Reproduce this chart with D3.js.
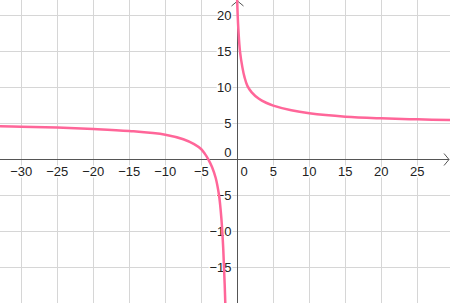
<!DOCTYPE html>
<html>
<head>
    <meta charset="utf-8" />
    <title>Function plot</title>
    <style>
        html, body { margin: 0; padding: 0; background: #fff; }
        #plot { width: 450px; height: 303px; }
        text { font-family: "Liberation Sans", Arial, sans-serif; font-size: 13px; fill: #222; }
    </style>
</head>
<body>
    <div id="plot"></div>
    <script src="https://cdnjs.cloudflare.com/ajax/libs/d3/7.8.5/d3.min.js"></script>
    <script>
        // visible window of the graphics view
        var xDomain = [-32.96, 29.54]
        var yDomain = [-19.96, 22.12]
        var xTicks = [-30, -25, -20, -15, -10, -5, 5, 10, 15, 20, 25]
        var yTicks = [-15, -10, -5, 5, 10, 15, 20]

        // points, left and right branch
        var leftX = [-33.5, -30, -25, -20, -15, -10, -7.5, -6, -5, -4.5, -4.03, -3.5, -3, -2.54, -2.3, -2.12, -1.95, -1.85, -1.75, -1.67, -1.6]
        var leftY = [4.58, 4.53, 4.40, 4.21, 3.93, 3.42, 2.78, 2.1, 1.39, 0.75, 0, -1.1, -2.6, -5, -7.2, -9.5, -12.5, -15, -17.5, -20, -22.5]
        var rightX = [-0.03, 0.05, 0.15, 0.37, 0.7, 1.0, 1.4, 2, 3, 4, 5, 7.5, 10, 15, 20, 25, 30]
        var rightY = [22.5, 20, 18, 15, 12.8, 11.4, 10.2, 9.3, 8.4, 7.85, 7.45, 6.8, 6.39, 5.92, 5.69, 5.55, 5.45]

        var width = 450, height = 303

        var svg = d3.select("#plot").append("svg")
            .attr("width", width)
            .attr("height", height)

        var x = d3.scaleLinear().domain(xDomain).range([0, width])
        var y = d3.scaleLinear().domain(yDomain).range([height, 0])
        var fmt = d3.format("d")

        // grid
        var grid = svg.append("g").attr("stroke", "#d6d6d6").attr("stroke-width", 1)
        grid.selectAll("line.v").data(xTicks).enter().append("line")
            .attr("x1", function (d) { return Math.round(x(d)) + 0.5 })
            .attr("x2", function (d) { return Math.round(x(d)) + 0.5 })
            .attr("y1", 0).attr("y2", height)
        grid.selectAll("line.h").data(yTicks).enter().append("line")
            .attr("y1", function (d) { return Math.round(y(d)) + 0.5 })
            .attr("y2", function (d) { return Math.round(y(d)) + 0.5 })
            .attr("x1", 0).attr("x2", width)

        // axes
        var x0 = Math.round(x(0)) + 0.5, y0 = Math.round(y(0)) + 0.5
        var axes = svg.append("g").attr("stroke", "#555").attr("stroke-width", 1).attr("fill", "none")
        axes.append("line").attr("x1", 0).attr("x2", width - 1).attr("y1", y0).attr("y2", y0)
        axes.append("line").attr("x1", x0).attr("x2", x0).attr("y1", 1).attr("y2", height)
        axes.append("path").attr("d", "M" + (width - 6) + "," + (y0 - 6) + "L" + (width - 1) + "," + y0 + "L" + (width - 6) + "," + (y0 + 6))
        axes.append("path").attr("d", "M" + (x0 - 6) + ",6L" + x0 + ",1L" + (x0 + 6) + ",6")

        // labels with white halo so grid lines stop at them
        var labels = svg.append("g")
            .attr("stroke", "#fff").attr("stroke-width", 3)
            .style("paint-order", "stroke")
        labels.selectAll("text.x").data(xTicks).enter().append("text")
            .attr("x", function (d) { return x(d) })
            .attr("y", y0 + 16)
            .attr("text-anchor", "middle")
            .text(function (d) { return fmt(d) })
        labels.selectAll("text.y").data(yTicks).enter().append("text")
            .attr("x", x0 - 6)
            .attr("y", function (d) { return y(d) + 4.5 })
            .attr("text-anchor", "end")
            .text(function (d) { return fmt(d) })
        labels.append("text").attr("x", x0 - 6).attr("y", y0 - 3).attr("text-anchor", "end").text("0")
        labels.append("text").attr("x", x0 + 3).attr("y", y0 + 16).text("0")

        // curve
        var line = d3.line()
            .x(function (d) { return x(d[0]) })
            .y(function (d) { return y(d[1]) })
            .curve(d3.curveCatmullRom.alpha(0.5))
        var branches = [
            d3.zip(leftX, leftY),
            d3.zip(rightX, rightY)
        ]
        svg.append("g").selectAll("path").data(branches).enter().append("path")
            .attr("d", line)
            .attr("fill", "none")
            .attr("stroke", "#ff6699")
            .attr("stroke-width", 2.5)
            .attr("stroke-linecap", "round")
    </script>
</body>
</html>
